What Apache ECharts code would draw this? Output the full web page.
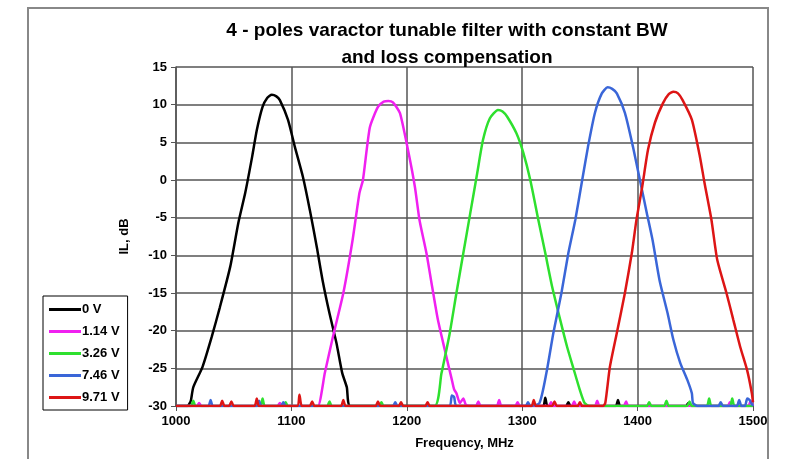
<!DOCTYPE html>
<html>
<head>
<meta charset="utf-8">
<script src="https://cdn.jsdelivr.net/npm/echarts@6/dist/echarts.min.js"></script>
<style>html,body{margin:0;padding:0;background:#fff}#c{width:785px;height:459px}</style>
</head>
<body>
<div id="c"></div>
<script>
const titleText = '4 - poles varactor tunable filter with constant BW\nand loss compensation';
const xTicks = [1000, 1100, 1200, 1300, 1400, 1500];
const yTicks = [15, 10, 5, 0, -5, -10, -15, -20, -25, -30];
const seriesNames = ['0 V', '1.14 V', '3.26 V', '7.46 V', '9.71 V'];
const seriesColors = ['#000000', '#f020f0', '#2ee02e', '#3a66d8', '#dd1515'];

// 0 V
const f0 = [1000,1010,1012,1013,1015,1023,1031,1038,1047,1054,1060,1066,1070,1075,1079,1083,1087,1090,1097,1103,1110,1116,1122,1127,1133,1139,1144,1148,1151,1200,1318,1320,1322,1338,1340,1342,1381,1383,1385,1442,1444,1446,1500];
const il0 = [-30,-30,-29.6,-29.2,-27.5,-24.8,-20.8,-16.9,-11.5,-5.7,-1.7,3.1,6.6,9.7,10.9,11.3,11.1,10.6,8.0,4.4,0.4,-4.0,-8.9,-13.3,-17.7,-21.6,-25.6,-27.5,-30,-30,-30,-28.9,-30,-30,-29.5,-30,-30,-29.2,-30,-30,-29.6,-30,-30];
// 1.14 V
const f1 = [1000,1018,1020,1022,1088,1090,1092,1118,1123,1129,1136,1145,1153,1159,1162,1168,1175,1180,1184,1188,1194,1201,1207,1211,1217,1222,1227,1233,1239,1241,1243,1246,1249,1251,1254,1260,1262,1264,1278,1280,1282,1294,1296,1298,1323,1325,1327,1343,1345,1347,1363,1365,1367,1388,1390,1392,1478,1480,1482,1496,1498,1500];
const il1 = [-30,-30,-29.6,-30,-30,-29.6,-30,-30,-30,-25.6,-20.8,-15,-8,-1.7,0,7.0,9.7,10.4,10.5,10.3,8.9,4,-0.9,-5.3,-9.7,-14.2,-18.6,-22.6,-26.5,-27.8,-28.3,-29.6,-29.0,-29.8,-30,-30,-29.4,-30,-30,-29.2,-30,-30,-29.5,-30,-30,-29.5,-30,-30,-29.4,-30,-30,-29.3,-30,-30,-29.4,-30,-30,-29.5,-30,-30,-29.3,-30];
// 3.26 V
const f2 = [1000,1013,1015,1017,1073,1075,1077,1093,1095,1097,1131,1133,1135,1176,1178,1180,1224,1230,1237,1243,1249,1255,1261,1266,1272,1279,1283,1287,1295,1301,1307,1314,1320,1326,1333,1339,1344,1350,1354,1358,1408,1410,1412,1423,1425,1427,1443,1445,1447,1460,1462,1464,1480,1482,1484,1500];
const il2 = [-30,-30,-29.3,-30,-30,-29.0,-30,-30,-29.5,-30,-30,-29.4,-30,-30,-29.5,-30,-30,-25.7,-20.5,-15,-9.7,-4.4,0.9,5.3,8.2,9.3,9.1,8.4,6.2,3.6,0,-5.3,-9.7,-14.2,-18.6,-22.2,-24.8,-27.9,-29.6,-30,-30,-29.5,-30,-30,-29.3,-30,-30,-29.4,-30,-30,-29.0,-30,-30,-29.0,-30,-30];
// 7.46 V
const f3 = [1000,1028,1030,1032,1070,1072,1074,1091,1093,1095,1188,1190,1192,1237,1239,1241,1243,1303,1305,1307,1315,1321,1327,1334,1340,1346,1352,1357,1363,1369,1374,1378,1382,1389,1396,1402,1408,1413,1419,1426,1431,1437,1443,1447,1448,1452,1470,1472,1474,1486,1488,1490,1493,1495,1497,1500];
const il3 = [-30,-30,-29.2,-30,-30,-29.3,-30,-30,-29.5,-30,-30,-29.5,-30,-30,-28.6,-28.8,-30,-30,-29.5,-30,-29.6,-25.6,-20.3,-15,-9.7,-5.3,0,4.4,8.9,11.5,12.3,12.1,11.5,8.9,4.4,0,-4.4,-8,-13.3,-17.7,-21.2,-24.3,-26.5,-28.3,-29.6,-30,-30,-29.5,-30,-30,-29.2,-30,-30,-29.0,-29.2,-30];
// 9.71 V
const f4 = [1000,1038,1040,1042,1046,1048,1050,1068,1070,1072,1105,1107,1109,1116,1118,1120,1143,1145,1147,1173,1175,1177,1193,1195,1197,1216,1218,1220,1308,1310,1312,1326,1328,1330,1348,1350,1352,1370,1372,1376,1382,1389,1395,1399,1404,1409,1415,1422,1427,1431,1435,1439,1447,1454,1458,1464,1469,1477,1483,1489,1495,1499,1500];
const il4 = [-30,-30,-29.3,-30,-30,-29.4,-30,-30,-29.0,-30,-30,-28.5,-30,-30,-29.4,-30,-30,-29.2,-30,-30,-29.4,-30,-30,-29.5,-30,-30,-29.5,-30,-30,-29.2,-30,-30,-29.4,-30,-30,-29.5,-30,-30,-29.6,-24.8,-20.3,-15,-9.7,-5.3,-0.9,4,7.6,10.2,11.4,11.7,11.5,10.6,8,3.1,-0.4,-5.3,-10.6,-15,-18.6,-22.2,-25.3,-28.3,-29.5];

const freqs = [f0, f1, f2, f3, f4];
const ils = [il0, il1, il2, il3, il4];

const chart = echarts.init(document.getElementById('c'));
const FONT = 'Liberation Sans, Arial, sans-serif';

const series = seriesNames.map((name, i) => ({
  name: name,
  type: 'line',
  data: freqs[i].map((f, k) => [f, ils[i][k]]),
  showSymbol: false,
  symbol: 'none',
  smooth: 0.2,
  lineStyle: { color: seriesColors[i], width: 2.5 },
  itemStyle: { color: seriesColors[i] },
  clip: true,
  z: 3
}));

chart.setOption({
  animation: false,
  backgroundColor: '#ffffff',
  title: {
    text: titleText,
    left: 442,
    top: 12,
    textAlign: 'center',
    textStyle: { fontFamily: FONT, fontSize: 19, fontWeight: 'bold', color: '#000', lineHeight: 27 }
  },
  grid: { left: 176, top: 67, right: 32, bottom: 53, containLabel: false },
  legend: {
    orient: 'vertical',
    left: 43,
    top: 296,
    icon: 'rect',
    itemWidth: 32,
    itemHeight: 3,
    itemGap: 9,
    padding: [7, 8, 6, 6],
    borderColor: '#000',
    borderWidth: 1,
    backgroundColor: '#fff',
    data: seriesNames,
    textStyle: { fontFamily: FONT, fontSize: 13, fontWeight: 'bold', color: '#000', padding: [0, 0, 0, -4], lineHeight: 12 }
  },
  xAxis: {
    type: 'value',
    min: 1000, max: 1500, interval: 100,
    name: 'Frequency, MHz',
    nameLocation: 'middle',
    nameGap: 31,
    nameTextStyle: { fontFamily: FONT, fontSize: 13, fontWeight: 'bold', color: '#000' },
    axisLine: { show: true, onZero: false, lineStyle: { color: '#555', width: 1.5 } },
    axisTick: { show: true, inside: false, length: 5, lineStyle: { color: '#555' } },
    axisLabel: { fontFamily: FONT, fontSize: 13, fontWeight: 'bold', color: '#000', margin: 9,
      formatter: v => xTicks.includes(v) ? String(v) : '' },
    splitLine: { show: true, lineStyle: { color: '#555', width: 1.5 } }
  },
  yAxis: {
    type: 'value',
    min: -30, max: 15, interval: 5,
    name: 'IL, dB',
    nameLocation: 'middle',
    nameGap: 45,
    nameRotate: 90,
    nameTextStyle: { fontFamily: FONT, fontSize: 13, fontWeight: 'bold', color: '#000' },
    axisLine: { show: true, onZero: false, lineStyle: { color: '#555', width: 1.5 } },
    axisTick: { show: true, inside: false, length: 5, lineStyle: { color: '#555' } },
    axisLabel: { fontFamily: FONT, fontSize: 13, fontWeight: 'bold', color: '#000', margin: 9,
      formatter: v => yTicks.includes(v) ? String(v) : '' },
    splitLine: { show: true, lineStyle: { color: '#555', width: 1.5 } }
  },
  graphic: [{
    type: 'rect',
    shape: { x: 28, y: 8, width: 740, height: 460 },
    style: { fill: 'none', stroke: '#888', lineWidth: 2 },
    silent: true, z: -1
  }],
  series: series
});
</script>
</body>
</html>
